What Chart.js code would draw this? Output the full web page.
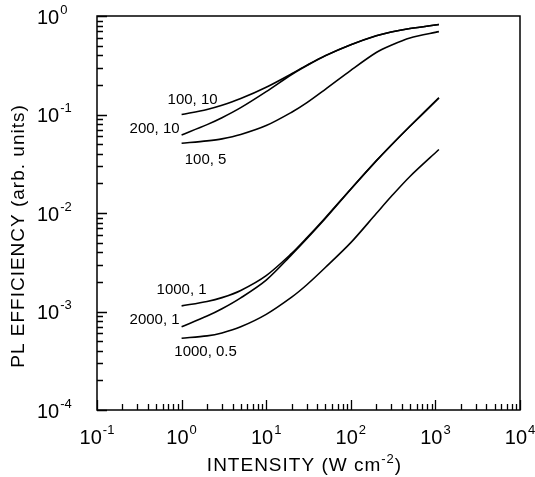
<!DOCTYPE html>
<html>
<head>
<meta charset="utf-8">
<title>PL efficiency vs intensity</title>
<script src="https://cdn.jsdelivr.net/npm/chart.js@4.4.1/dist/chart.umd.min.js"></script>
<style>
  html, body { margin: 0; padding: 0; background: #fff; }
  #wrap { width: 535px; height: 477px; position: relative; }
</style>
</head>
<body>
<div id="wrap"><canvas id="plChart"></canvas></div>
<script>
// Excitation intensity (W cm^-2) shared by all curves
const intensity = [1, 2, 3, 5, 10, 20, 30, 50, 100, 200, 300, 500, 1100];

// PL efficiency (arb. units), one array per curve
const eff100_10  = [0.100, 0.1125, 0.124, 0.145, 0.189, 0.259, 0.315, 0.396, 0.512, 0.630, 0.689, 0.747, 0.821];
const eff200_10  = [0.062, 0.0789, 0.0927, 0.1173, 0.1706, 0.255, 0.313, 0.395, 0.511, 0.630, 0.689, 0.747, 0.821];
const eff100_5   = [0.051, 0.0540, 0.0566, 0.0627, 0.0772, 0.1055, 0.1312, 0.1803, 0.281, 0.4258, 0.5048, 0.5975, 0.694];
const eff1000_1  = [0.00114, 0.001265, 0.001383, 0.001637, 0.002314, 0.00389, 0.00556, 0.00895, 0.01754, 0.0339, 0.0488, 0.0760, 0.1473];
const eff2000_1  = [0.00070, 0.000898, 0.001065, 0.001375, 0.002084, 0.00378, 0.00545, 0.0088, 0.01745, 0.0338, 0.0488, 0.0760, 0.1473];
const eff1000_05 = [0.000535, 0.0005655, 0.000606, 0.000699, 0.000935, 0.001398, 0.001857, 0.002795, 0.00500, 0.00987, 0.01468, 0.02349, 0.0441];

const curveLabels = ['100, 10', '200, 10', '100, 5', '1000, 1', '2000, 1', '1000, 0.5'];
const curveValues = [eff100_10, eff200_10, eff100_5, eff1000_1, eff2000_1, eff1000_05];

// decade exponents for the tick labels
const xExponents = [-1, 0, 1, 2, 3, 4];
const yExponents = [-4, -3, -2, -1, 0];

const xTitle = 'INTENSITY (W cm';
const xTitleSup = '-2';
const xTitleEnd = ')';
const yTitle = 'PL EFFICIENCY (arb. units)';

const FONT = '"Liberation Sans", Arial, Helvetica, sans-serif';

// where each curve label sits relative to the curve's first point (px)
const labelPlace = [
  { dx: 11, dy: -15, align: 'center' },
  { dx: -2, dy: -6, align: 'right' },
  { dx: 24, dy: 17, align: 'center' },
  { dx: 0, dy: -16, align: 'center' },
  { dx: -2, dy: -7, align: 'right' },
  { dx: 24, dy: 14, align: 'center' }
];

// "10" with a raised exponent, anchored by the given alignment
function drawPower(ctx, exp, x, y, align) {
  const base = '10';
  const sup = String(exp);
  ctx.font = '20px ' + FONT;
  const wb = ctx.measureText(base).width;
  ctx.font = '13px ' + FONT;
  const ws = ctx.measureText(sup).width;
  const total = wb + 1 + ws;
  let left = x;
  if (align === 'center') left = x - total / 2;
  else if (align === 'right') left = x - total;
  ctx.textAlign = 'left';
  ctx.textBaseline = 'middle';
  ctx.font = '20px ' + FONT;
  ctx.fillText(base, left, y);
  ctx.font = '13px ' + FONT;
  ctx.fillText(sup, left + wb + 1, y - 8);
}

const decorPlugin = {
  id: 'decor',
  afterDraw(chart) {
    const { ctx, chartArea: a, scales } = chart;
    const xs = scales.x, ys = scales.y;
    ctx.save();
    ctx.strokeStyle = '#000';
    ctx.fillStyle = '#000';

    // frame
    ctx.lineWidth = 1.5;
    ctx.strokeRect(a.left, a.top, a.right - a.left, a.bottom - a.top);

    // inward ticks on bottom and left axes
    ctx.lineWidth = 1.3;
    ctx.beginPath();
    for (let e = xExponents[0]; e < xExponents[xExponents.length - 1]; e++) {
      for (let m = 1; m <= 10; m++) {
        const px = Math.round(xs.getPixelForValue(m * Math.pow(10, e))) + 0.5;
        const len = (m === 1 || m === 10) ? 10 : 6;
        ctx.moveTo(px, a.bottom);
        ctx.lineTo(px, a.bottom - len);
      }
    }
    for (let e = yExponents[0]; e < yExponents[yExponents.length - 1]; e++) {
      for (let m = 1; m <= 10; m++) {
        const py = Math.round(ys.getPixelForValue(m * Math.pow(10, e))) + 0.5;
        const len = (m === 1 || m === 10) ? 10 : 6;
        ctx.moveTo(a.left, py);
        ctx.lineTo(a.left + len, py);
      }
    }
    ctx.stroke();

    // tick labels
    xExponents.forEach(e => {
      drawPower(ctx, e, xs.getPixelForValue(Math.pow(10, e)), a.bottom + 28, 'center');
    });
    yExponents.forEach(e => {
      drawPower(ctx, e, a.left - 60, ys.getPixelForValue(Math.pow(10, e)) + 2, 'left');
    });

    // axis titles
    ctx.letterSpacing = '1px';
    ctx.font = '19px ' + FONT;
    const w1 = ctx.measureText(xTitle).width;
    const w3 = ctx.measureText(xTitleEnd).width;
    ctx.font = '13px ' + FONT;
    const w2 = ctx.measureText(xTitleSup).width;
    const cx = (a.left + a.right) / 2 - 4;
    let tx = cx - (w1 + w2 + w3) / 2;
    const ty = a.bottom + 56;
    ctx.textAlign = 'left';
    ctx.textBaseline = 'middle';
    ctx.font = '19px ' + FONT;
    ctx.fillText(xTitle, tx, ty);
    ctx.font = '13px ' + FONT;
    ctx.fillText(xTitleSup, tx + w1, ty - 7);
    ctx.font = '19px ' + FONT;
    ctx.fillText(xTitleEnd, tx + w1 + w2, ty);

    ctx.save();
    ctx.translate(19, 236);
    ctx.rotate(-Math.PI / 2);
    ctx.textAlign = 'center';
    ctx.textBaseline = 'middle';
    ctx.font = '19px ' + FONT;
    ctx.fillText(yTitle, 0, 0);
    ctx.restore();
    ctx.letterSpacing = '0px';

    // curve labels next to the low-intensity end of each curve
    ctx.font = '15px ' + FONT;
    ctx.textBaseline = 'middle';
    curveValues.forEach((vals, i) => {
      const px = xs.getPixelForValue(intensity[0]);
      const py = ys.getPixelForValue(vals[0]);
      const p = labelPlace[i];
      ctx.textAlign = p.align;
      ctx.fillText(curveLabels[i], px + p.dx, py + p.dy);
    });
    ctx.restore();
  }
};

new Chart(document.getElementById('plChart'), {
  type: 'line',
  data: {
    datasets: curveValues.map((vals, i) => ({
      label: curveLabels[i],
      data: intensity.map((x, j) => ({ x: x, y: vals[j] })),
      borderColor: '#000',
      borderWidth: 1.6,
      pointRadius: 0,
      fill: false,
      tension: 0.3
    }))
  },
  options: {
    responsive: true,
    maintainAspectRatio: false,
    animation: false,
    layout: { padding: { left: 97, top: 16, right: 15, bottom: 67 } },
    scales: {
      x: { type: 'logarithmic', min: 0.1, max: 10000, display: false },
      y: { type: 'logarithmic', min: 0.0001, max: 1, display: false }
    },
    plugins: {
      legend: { display: false },
      tooltip: { enabled: false }
    }
  },
  plugins: [decorPlugin]
});
</script>
</body>
</html>
